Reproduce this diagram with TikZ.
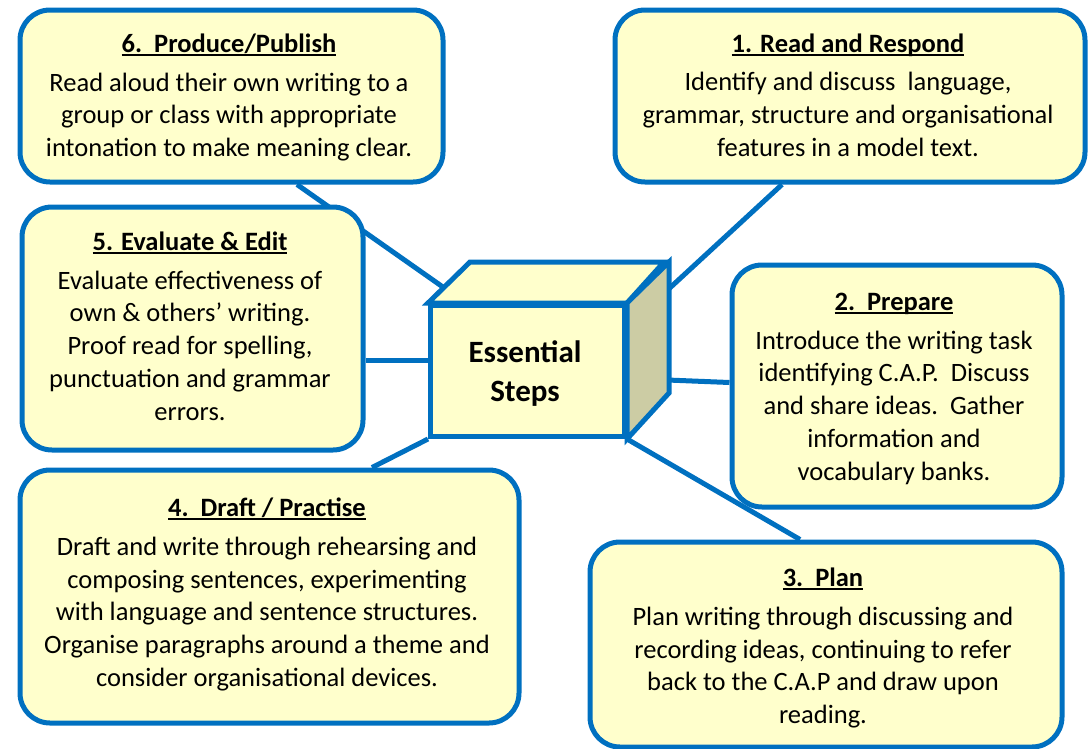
\documentclass[tikz,border=0pt]{standalone}
\usepackage{fontspec}
\setmainfont{Carlito}
\usetikzlibrary{calc}
\definecolor{bblue}{RGB}{0,112,192}
\definecolor{pale}{RGB}{255,255,204}
\definecolor{sideface}{RGB}{204,204,164}
\pgfdeclarelayer{bg}
\pgfsetlayers{bg,main}
\newcommand{\myttl}[1]{\setbox0\hbox{\bfseries #1}\rlap{\rule[-3.5pt]{\wd0}{2pt}}\box0}
\begin{document}
\begin{tikzpicture}[x=1pt,y=-1pt,
  box/.style={draw=bblue, fill=pale, line width=5pt, rounded corners=30pt, rectangle, inner sep=0pt, anchor=north west},
  cubeface/.style={draw=bblue, line width=5pt, line join=miter},
  txt/.style={align=center, inner sep=0pt, anchor=north, font=\fontsize{26.5}{32.7}\selectfont},
  conn/.style={draw=bblue, line width=5pt}]
\useasboundingbox (0,0) rectangle (1088,748);

% boxes
\node[box, minimum width=423pt, minimum height=172pt] (b6) at (17.5,7.5) {};
\node[box, minimum width=470pt, minimum height=172pt] (b1) at (612.5,7.5) {};
\node[box, minimum width=341pt, minimum height=243pt] (b5) at (19.5,204.5) {};
\node[box, minimum width=330pt, minimum height=242pt] (b2) at (729.5,262.5) {};
\node[box, minimum width=499pt, minimum height=253pt] (b4) at (17.5,467.5) {};
\node[box, minimum width=472pt, minimum height=205pt] (b3) at (587.5,539.5) {};

% cube
\node[cubeface, fill=pale, rectangle, inner sep=0pt, anchor=north west, minimum width=194pt, minimum height=131pt] (cube) at (428,303) {};
\draw[cubeface, fill=pale] (cube.north west) -- ++(42,-41) -- ++(194,0) -- (cube.north east) -- cycle;
\draw[cubeface, fill=sideface] (cube.north east) -- ++(42,-41) -- ++(0,131) -- (cube.south east) -- cycle;
\node[txt, font=\fontsize{31}{39}\selectfont\bfseries] (es) at (525,334.5) {\strut Essential\\Steps};

% texts
\node[txt] (t6) at (229,29.5) {\strut\myttl{6.\ \ Produce/Publish}\\[6pt]
  Read aloud their own writing to a\\group or class with appropriate\\intonation to make meaning clear.};
\node[txt] (t1) at (848,29) {\strut\myttl{1. Read and Respond}\\[6pt]
  Identify and discuss\ \ language,\\grammar, structure and organisational\\features in a model text.};
\node[txt] (t5) at (190,227.5) {\strut\myttl{5. Evaluate \& Edit}\\[6pt]
  Evaluate effectiveness of\\own \& others’ writing.\\Proof read for spelling,\\punctuation and grammar\\errors.};
\node[txt] (t2) at (894,287.5) {\strut\myttl{2.\ \ Prepare}\\[6pt]
  Introduce the writing task\\identifying C.A.P.\ \ Discuss\\and share ideas.\ \ Gather\\information and\\vocabulary banks.};
\node[txt] (t4) at (267,493.5) {\strut\myttl{4.\ \ Draft / Practise}\\[6pt]
  Draft and write through rehearsing and\\composing sentences, experimenting\\with language and sentence structures.\\Organise paragraphs around a theme and\\consider organisational devices.};
\node[txt] (t3) at (823,563.5) {\strut\myttl{3.\ \ Plan}\\[6pt]
  Plan writing through discussing and\\recording ideas, continuing to refer\\back to the C.A.P and draw upon\\reading.};

% connectors
\begin{pgfonlayer}{bg}
\draw[conn] ($(b6.south west)+(279.5,0)$) -- ($(cube.north west)+(22,-11)$);
\draw[conn] ($(b1.south west)+(169.5,0)$) -- ($(cube.north east)+(33,-6)$);
\draw[conn] ($(b5.north east)+(0,155.5)$) -- ($(cube.north west)+(0,57)$);
\draw[conn] ($(cube.north east)+(28,76.5)$) -- ($(b2.north west)+(0,120)$);
\draw[conn] ($(b4.north west)+(354.5,0)$) -- (cube.south west);
\draw[conn] (cube.south east) -- ($(b3.north west)+(212.5,0)$);
\end{pgfonlayer}
\end{tikzpicture}
\end{document}
